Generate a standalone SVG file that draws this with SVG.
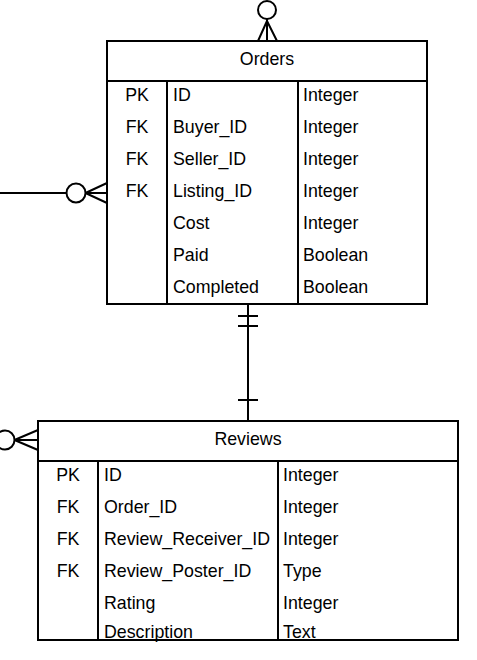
<svg xmlns="http://www.w3.org/2000/svg" width="477" height="660" viewBox="0 0 477 660">
<style>
.ln{fill:none;stroke:#000;stroke-width:2}
.bx{fill:#fff;stroke:#000;stroke-width:2}
text{font-family:"Liberation Sans",Arial,sans-serif;font-size:17.8px;fill:#000}
.c{text-anchor:middle}
</style>
<rect width="477" height="660" fill="#fff"/>
<g id="connectors">
  <circle class="ln" cx="267" cy="10" r="9"/>
  <path class="ln" d="M267 19V41M267 21L258 41M267 21L277 41"/>
  <path class="ln" d="M0 193H66.5"/>
  <circle class="ln" cx="76" cy="193" r="9.5"/>
  <path class="ln" d="M85.5 193H107M85.5 193L107 183M85.5 193L107 203"/>
  <path class="ln" d="M248 304V421M238 316H258M238 326H258M238 400H258"/>
  <circle class="ln" cx="5" cy="440" r="9.5"/>
  <path class="ln" d="M14.5 440H38M14.5 440L38 430M14.5 440L38 450"/>
</g>
<g id="orders">
  <rect class="bx" x="107" y="41" width="320" height="263"/>
  <path class="ln" d="M107 81H427M167 81V304M298 81V304"/>
  <text class="c" x="267" y="65">Orders</text>
  <text class="c" x="137" y="101">PK</text>
  <text class="c" x="137" y="133">FK</text>
  <text class="c" x="137" y="165">FK</text>
  <text class="c" x="137" y="197">FK</text>
  <text x="173" y="101">ID</text>
  <text x="173" y="133">Buyer_ID</text>
  <text x="173" y="165">Seller_ID</text>
  <text x="173" y="197">Listing_ID</text>
  <text x="173" y="229">Cost</text>
  <text x="173" y="261">Paid</text>
  <text x="173" y="293">Completed</text>
  <text x="303" y="101">Integer</text>
  <text x="303" y="133">Integer</text>
  <text x="303" y="165">Integer</text>
  <text x="303" y="197">Integer</text>
  <text x="303" y="229">Integer</text>
  <text x="303" y="261">Boolean</text>
  <text x="303" y="293">Boolean</text>
</g>
<g id="reviews">
  <rect class="bx" x="38" y="421" width="420" height="219"/>
  <path class="ln" d="M38 461H458M98 461V640M278 461V640"/>
  <text class="c" x="248" y="445">Reviews</text>
  <text class="c" x="68" y="481">PK</text>
  <text class="c" x="68" y="513">FK</text>
  <text class="c" x="68" y="545">FK</text>
  <text class="c" x="68" y="577">FK</text>
  <text x="104" y="481">ID</text>
  <text x="104" y="513">Order_ID</text>
  <text x="104" y="545">Review_Receiver_ID</text>
  <text x="104" y="577">Review_Poster_ID</text>
  <text x="104" y="609">Rating</text>
  <text x="104" y="638">Description</text>
  <text x="283" y="481">Integer</text>
  <text x="283" y="513">Integer</text>
  <text x="283" y="545">Integer</text>
  <text x="283" y="577">Type</text>
  <text x="283" y="609">Integer</text>
  <text x="283" y="638">Text</text>
</g>
</svg>
